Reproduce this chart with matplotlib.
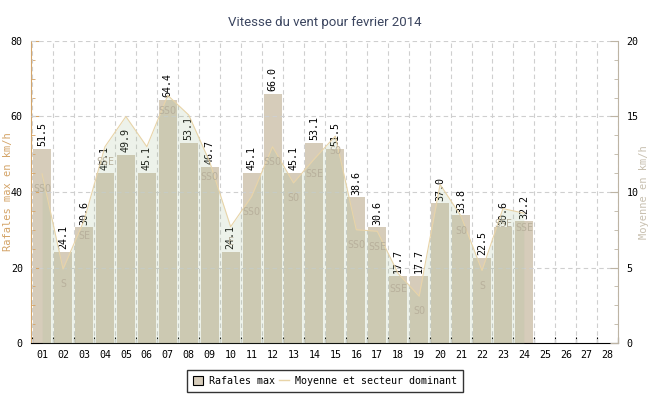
import matplotlib.pyplot as plt
import numpy as np
from matplotlib.patches import Patch
from matplotlib.lines import Line2D
from matplotlib.ticker import MultipleLocator, FixedLocator, NullFormatter

# jours du mois et valeurs
jours = np.arange(1, 29)
etiquettes = ["%02d" % j for j in jours]
rafales = [51.5, 24.1, 30.6, 45.1, 49.9, 45.1, 64.4, 53.1, 46.7, 24.1, 45.1, 66.0,
           45.1, 53.1, 51.5, 38.6, 30.6, 17.7, 17.7, 37.0, 33.8, 22.5, 30.6, 32.2]
moyenne = [11.2, 4.9, 8.1, 13.0, 15.0, 13.0, 16.4, 15.1, 12.0, 7.7, 9.7, 13.0,
           10.6, 12.2, 13.7, 7.5, 7.4, 4.6, 3.1, 10.5, 8.4, 4.8, 8.9, 8.6]
secteur = ["SSO", "S", "SE", "SSE", "", "", "SSO", "", "SSO", "E", "SSO", "SSO",
           "SO", "SSE", "SO", "SSO", "SSE", "SSE", "SO", "", "SO", "S", "SSE", "SSE"]

MONO = "DejaVu Sans Mono"
FS = 7.2
BAR = "#d6ccba"
LINE = "#e8d4a8"
LEFT = "#d4a468"
RIGHT = "#bdb4a4"

fig = plt.figure(figsize=(6.5, 4), dpi=100)
ax = fig.add_axes([0.048, 0.1425, 0.903, 0.755])
ax2 = ax.twinx()

n = len(rafales)
x = jours[:n]

ax.bar(x, rafales, width=0.86, color=BAR, zorder=1)
for xi, v in zip(x, rafales):
    ax.annotate("%.1f" % v, (xi, v), xytext=(0, 2), textcoords="offset points",
                rotation=90, ha="center", va="bottom", fontsize=FS, family=MONO,
                zorder=6, annotation_clip=False)

# grille par-dessus les barres
for k in range(0, 29):
    ax.axvline(k + 0.5, color="#cfcfcf", lw=0.8, ls=(0, (4, 3)), zorder=3)
for yv in (20, 40, 60, 80):
    ax.axhline(yv, color="#cfcfcf", lw=0.8, ls=(0, (4, 3)), zorder=3)

ax2.fill_between(x, moyenne, 0, color=(0.65, 0.75, 0.59), alpha=0.2, lw=0, zorder=2)
ax2.plot(x, moyenne, color=LINE, lw=0.8, zorder=4)
for xi, v, s in zip(x, moyenne, secteur):
    if s:
        ax2.annotate(s, (xi, v), xytext=(0, -11), textcoords="offset points",
                     ha="center", va="center", fontsize=FS, family=MONO,
                     color="#b8b09c", zorder=5)

ax.set_xlim(0.48, 28.5)
ax.set_ylim(0, 80)
ax2.set_ylim(0, 20)

ax.xaxis.set_major_locator(FixedLocator(np.arange(0.5, 29, 1)))
ax.xaxis.set_major_formatter(NullFormatter())
ax.xaxis.set_minor_locator(FixedLocator(jours))
ax.set_xticklabels(etiquettes, minor=True)
ax.tick_params(axis="x", which="major", direction="in", length=4, color="black")
ax.tick_params(axis="x", which="minor", length=0, pad=5, labelsize=FS)

ax.yaxis.set_major_locator(MultipleLocator(20))
ax.yaxis.set_minor_locator(MultipleLocator(5))
ax.tick_params(axis="y", which="both", direction="in", color=LEFT, labelsize=FS)
ax.tick_params(axis="y", which="major", length=6, pad=6)
ax.tick_params(axis="y", which="minor", length=3)

ax2.yaxis.set_major_locator(MultipleLocator(5))
ax2.yaxis.set_minor_locator(MultipleLocator(1.25))
ax2.tick_params(axis="y", which="both", direction="in", color=RIGHT, labelsize=FS)
ax2.tick_params(axis="y", which="major", length=6, pad=6)
ax2.tick_params(axis="y", which="minor", length=3)

for lab in ax.get_xticklabels(minor=True) + ax.get_yticklabels() + ax2.get_yticklabels():
    lab.set_family(MONO)

ax.spines["left"].set_color(LEFT)
ax.spines["bottom"].set_color("black")
ax.spines["top"].set_visible(False)
ax.spines["right"].set_visible(False)
ax2.spines["right"].set_color(RIGHT)
ax2.spines["left"].set_visible(False)
ax2.spines["top"].set_visible(False)
ax2.spines["bottom"].set_visible(False)

ax.set_ylabel("Rafales max en km/h", color=LEFT, family=MONO, fontsize=FS + 0.3)
ax.yaxis.set_label_coords(-0.031, 0.5)
ax2.set_ylabel("Moyenne en km/h", color="#c8c0b0", family=MONO, fontsize=FS + 0.3)
ax2.yaxis.set_label_coords(1.035, 0.5)

fig.suptitle("Vitesse du vent pour fevrier 2014", x=0.5, y=0.96, fontsize=9.5,
             color="#3c4660", family="Roboto")

handles = [Patch(facecolor=BAR, edgecolor="black", lw=0.8),
           Line2D([], [], color=LINE, lw=1)]
fig.legend(handles, ["Rafales max", "Moyenne et secteur dominant"],
           loc="center", bbox_to_anchor=(0.5, 0.047), ncol=2, frameon=True,
           fancybox=False, edgecolor="black", prop={"family": MONO, "size": FS},
           handlelength=1.0, handleheight=1.0, columnspacing=0.4, handletextpad=0.6,
           borderpad=0.6)

fig.savefig("out.png", dpi=100, facecolor="white")
